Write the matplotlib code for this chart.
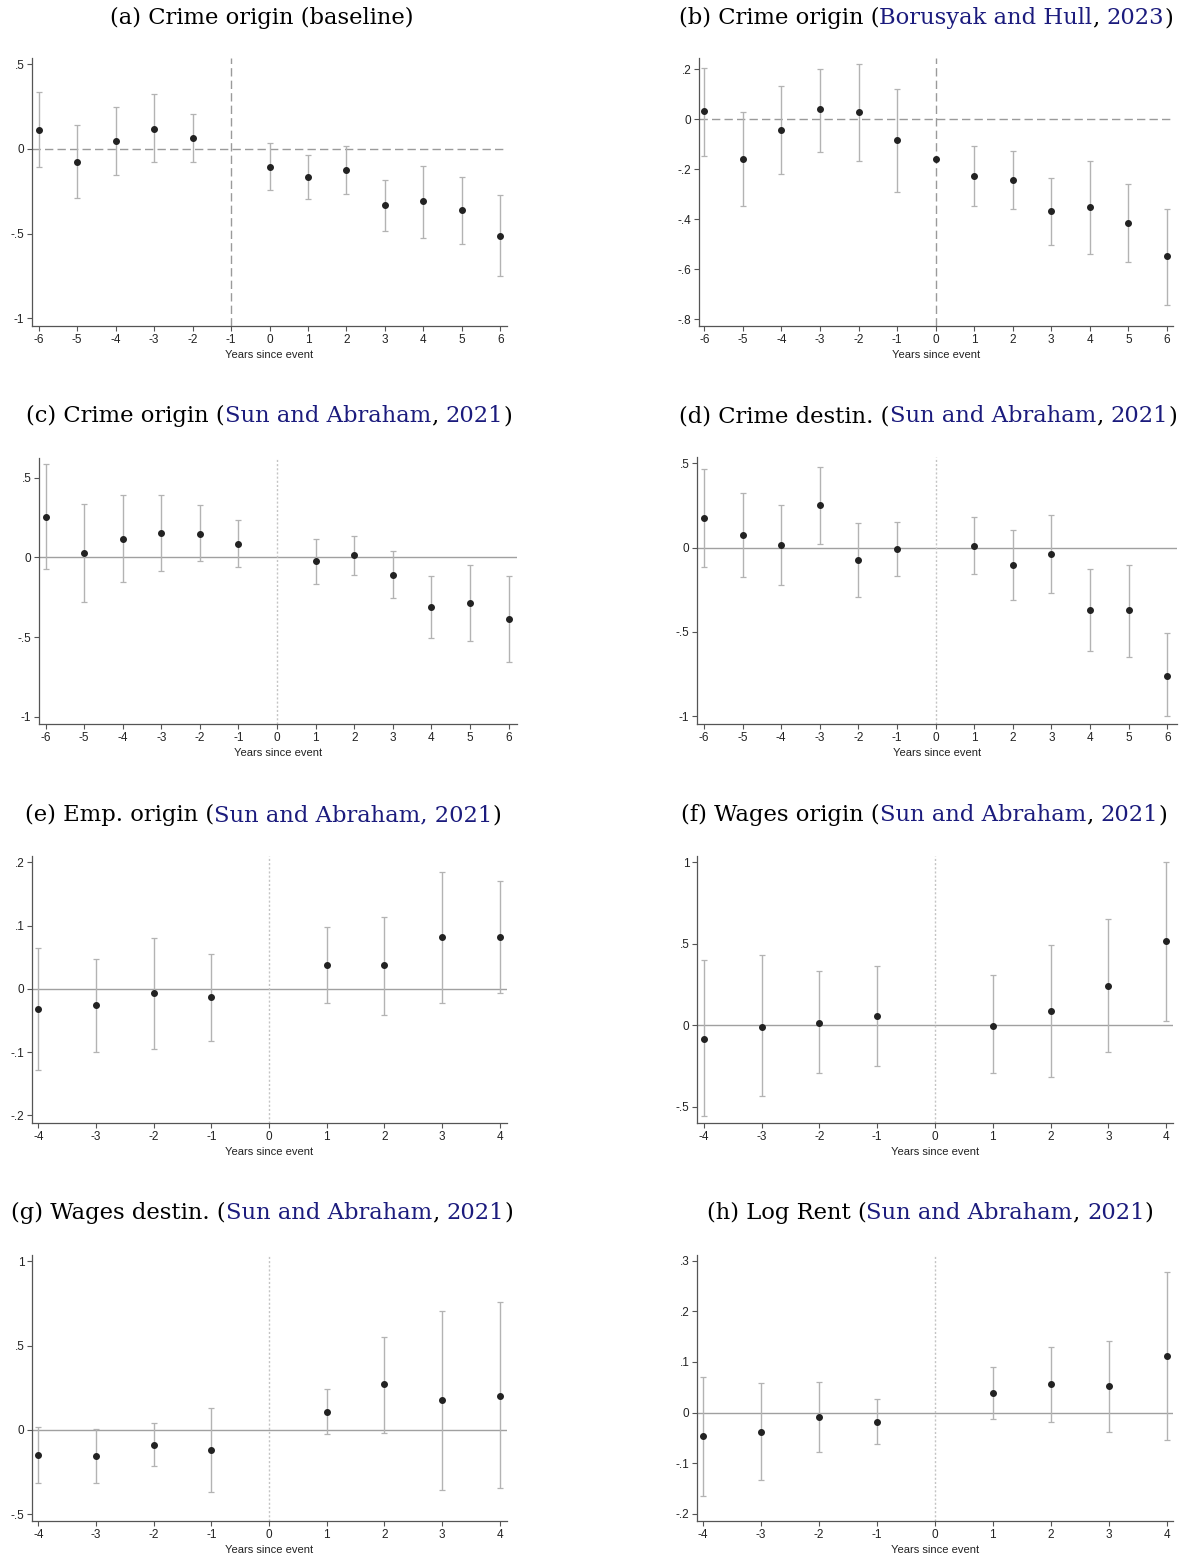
import numpy as np
import matplotlib
matplotlib.use("Agg")
import matplotlib.pyplot as plt

plt.rcParams["axes.unicode_minus"] = False
plt.rcParams["font.family"] = ["Liberation Sans", "DejaVu Sans"]

W, H = 1199, 1562

# event-study estimates, lower and upper 95% bounds
ev_a = [-6, -5, -4, -3, -2, 0, 1, 2, 3, 4, 5, 6]
est_a = [0.112, -0.075, 0.045, 0.120, 0.067, -0.105, -0.168, -0.124, -0.329, -0.306, -0.363, -0.513]
lo_a = [-0.108, -0.288, -0.152, -0.079, -0.077, -0.245, -0.296, -0.268, -0.485, -0.523, -0.564, -0.748]
hi_a = [0.335, 0.138, 0.245, 0.323, 0.207, 0.037, -0.039, 0.018, -0.183, -0.100, -0.164, -0.272]

ev_b = [-6, -5, -4, -3, -2, -1, 0, 1, 2, 3, 4, 5, 6]
est_b = [0.033, -0.158, -0.044, 0.039, 0.027, -0.084, -0.161, -0.226, -0.245, -0.368, -0.353, -0.416, -0.546]
lo_b = [-0.146, -0.346, -0.218, -0.130, -0.166, -0.292, -0.161, -0.346, -0.361, -0.503, -0.539, -0.571, -0.742]
hi_b = [0.203, 0.029, 0.131, 0.202, 0.222, 0.119, -0.161, -0.108, -0.127, -0.236, -0.169, -0.260, -0.361]

ev_cd = [-6, -5, -4, -3, -2, -1, 1, 2, 3, 4, 5, 6]
est_c = [0.256, 0.029, 0.119, 0.155, 0.149, 0.084, -0.023, 0.015, -0.109, -0.310, -0.285, -0.388]
lo_c = [-0.075, -0.281, -0.153, -0.082, -0.025, -0.061, -0.164, -0.107, -0.252, -0.504, -0.524, -0.654]
hi_c = [0.589, 0.335, 0.394, 0.394, 0.327, 0.237, 0.115, 0.136, 0.038, -0.119, -0.048, -0.119]

est_d = [0.174, 0.075, 0.012, 0.251, -0.077, -0.010, 0.010, -0.103, -0.036, -0.368, -0.372, -0.760]
lo_d = [-0.113, -0.176, -0.222, 0.020, -0.295, -0.168, -0.158, -0.313, -0.267, -0.614, -0.648, -1.000]
hi_d = [0.465, 0.323, 0.253, 0.477, 0.143, 0.154, 0.180, 0.101, 0.194, -0.125, -0.103, -0.507]

ev_4 = [-4, -3, -2, -1, 1, 2, 3, 4]
est_e = [-0.032, -0.025, -0.007, -0.013, 0.037, 0.038, 0.082, 0.082]
lo_e = [-0.129, -0.099, -0.095, -0.082, -0.022, -0.041, -0.022, -0.006]
hi_e = [0.064, 0.047, 0.080, 0.055, 0.098, 0.113, 0.185, 0.170]

est_f = [-0.082, -0.012, 0.014, 0.055, -0.002, 0.088, 0.243, 0.514]
lo_f = [-0.557, -0.435, -0.292, -0.249, -0.294, -0.316, -0.163, 0.027]
hi_f = [0.398, 0.429, 0.331, 0.365, 0.308, 0.494, 0.651, 1.000]

est_g = [-0.146, -0.152, -0.087, -0.119, 0.107, 0.271, 0.176, 0.204]
lo_g = [-0.314, -0.314, -0.215, -0.368, -0.024, -0.016, -0.356, -0.346]
hi_g = [0.016, 0.008, 0.040, 0.132, 0.241, 0.551, 0.706, 0.761]

est_h = [-0.047, -0.038, -0.009, -0.019, 0.039, 0.056, 0.053, 0.111]
lo_h = [-0.164, -0.134, -0.078, -0.062, -0.013, -0.018, -0.038, -0.055]
hi_h = [0.071, 0.059, 0.061, 0.027, 0.090, 0.129, 0.141, 0.278]

# y ticks in Stata style
yt_a = [-1, -0.5, 0, 0.5]
yl_a = ["-1", "-.5", "0", ".5"]
yt_b = [-0.8, -0.6, -0.4, -0.2, 0, 0.2]
yl_b = ["-.8", "-.6", "-.4", "-.2", "0", ".2"]
yt_e = [-0.2, -0.1, 0, 0.1, 0.2]
yl_e = ["-.2", "-.1", "0", ".1", ".2"]
yt_f = [-0.5, 0, 0.5, 1]
yl_f = ["-.5", "0", ".5", "1"]
yt_h = [-0.2, -0.1, 0, 0.1, 0.2, 0.3]
yl_h = ["-.2", "-.1", "0", ".1", ".2", ".3"]

BLUE = "#1b1b7d"
titles = {
    "a": [("(a) Crime origin (baseline)", "black")],
    "b": [("(b) Crime origin (", "black"), ("Borusyak and Hull", BLUE), (",", "black"), (" ", None), ("2023", BLUE), (")", "black")],
    "c": [("(c) Crime origin (", "black"), ("Sun and Abraham", BLUE), (",", "black"), (" ", None), ("2021", BLUE), (")", "black")],
    "d": [("(d) Crime destin. (", "black"), ("Sun and Abraham", BLUE), (",", "black"), (" ", None), ("2021", BLUE), (")", "black")],
    "e": [("(e) Emp. origin (", "black"), ("Sun and Abraham, 2021", BLUE), (")", "black")],
    "f": [("(f) Wages origin (", "black"), ("Sun and Abraham", BLUE), (",", "black"), (" ", None), ("2021", BLUE), (")", "black")],
    "g": [("(g) Wages destin. (", "black"), ("Sun and Abraham", BLUE), (",", "black"), (" ", None), ("2021", BLUE), (")", "black")],
    "h": [("(h) Log Rent (", "black"), ("Sun and Abraham", BLUE), (",", "black"), (" ", None), ("2021", BLUE), (")", "black")],
}

# panel: data, axes box in pixels (left, top, right, bottom), limits, ref line, title centre
panels = [
    ("a", ev_a, est_a, lo_a, hi_a, (32, 58, 507, 326), (-6.17, 6.17), (-1.045, 0.536), yt_a, yl_a, -1, "dashed", (262, 18)),
    ("b", ev_b, est_b, lo_b, hi_b, (699, 58, 1173, 326), (-6.14, 6.16), (-0.828, 0.245), yt_b, yl_b, 0, "dashed", (926, 18)),
    ("c", ev_cd, est_c, lo_c, hi_c, (39, 458, 517, 724), (-6.17, 6.22), (-1.046, 0.625), yt_a, yl_a, 0, "solid", (269, 416)),
    ("d", ev_cd, est_d, lo_d, hi_d, (697, 457, 1177, 724), (-6.18, 6.25), (-1.047, 0.537), yt_a, yl_a, 0, "solid", (928, 416)),
    ("e", ev_4, est_e, lo_e, hi_e, (32, 856, 507, 1123), (-4.11, 4.13), (-0.212, 0.21), yt_e, yl_e, 0, "solid", (263, 815)),
    ("f", ev_4, est_f, lo_f, hi_f, (697, 856, 1173, 1123), (-4.12, 4.12), (-0.598, 1.037), yt_f, yl_f, 0, "solid", (924, 815)),
    ("g", ev_4, est_g, lo_g, hi_g, (32, 1255, 507, 1521), (-4.11, 4.13), (-0.54, 1.037), yt_f, yl_f, 0, "solid", (262, 1213)),
    ("h", ev_4, est_h, lo_h, hi_h, (697, 1255, 1173, 1521), (-4.1, 4.11), (-0.214, 0.311), yt_h, yl_h, 0, "solid", (930, 1213)),
]

fig = plt.figure(figsize=(W / 100, H / 100), dpi=100)
fig.patch.set_facecolor("white")
renderer = fig.canvas.get_renderer()
TFONT = dict(family="DejaVu Serif", size=16.3)


def colored_title(xc, yc, parts):
    # measure each piece, then lay them out left to right around the centre
    sp = fig.text(0, 0, "x x", **TFONT)
    nsp = fig.text(0, 0, "xx", **TFONT)
    space_w = sp.get_window_extent(renderer).width - nsp.get_window_extent(renderer).width
    sp.remove()
    nsp.remove()
    widths = []
    for s, c in parts:
        if c is None:
            widths.append(space_w)
        else:
            t = fig.text(0, 0, s, **TFONT)
            widths.append(t.get_window_extent(renderer).width)
            t.remove()
    x = xc - sum(widths) / 2
    for (s, c), w in zip(parts, widths):
        if c is not None:
            fig.text(x / W, 1 - yc / H, s, color=c, ha="left", va="center", **TFONT)
        x += w


for key, ev, est, lo, hi, box, xl, yl, yt, ytl, vline, hstyle, tpos in panels:
    l, t, r, b = box
    ax = fig.add_axes([l / W, 1 - b / H, (r - l) / W, (b - t) / H])
    est = np.array(est)
    err = [est - np.array(lo), np.array(hi) - est]

    if hstyle == "dashed":
        ax.axhline(0, color="#9a9a9a", lw=1.0, ls=(0, (6, 3)), zorder=1)
        ax.axvline(vline, color="#9a9a9a", lw=1.0, ls=(0, (6, 3)), zorder=1)
    else:
        ax.axhline(0, color="#a0a0a0", lw=1.0, zorder=1)
        ax.axvline(vline, color="#c4c4c4", lw=1.0, ls=(0, (1.5, 1.5)), zorder=1)

    ax.errorbar(ev, est, yerr=err, fmt="none", ecolor="#b3b3b3", elinewidth=1.0,
                capsize=2.2, capthick=0.9, zorder=2)
    ax.plot(ev, est, "o", color="#222222", ms=4.0, zorder=3)

    ax.set_xlim(*xl)
    ax.set_ylim(*yl)
    ax.set_xticks(range(int(round(xl[0])), int(round(xl[1])) + 1))
    ax.set_yticks(yt)
    ax.set_yticklabels(ytl)
    ax.set_xlabel("Years since event", fontsize=8, color="#222222", labelpad=3)
    for sname in ["top", "right"]:
        ax.spines[sname].set_visible(False)
    for sname in ["left", "bottom"]:
        ax.spines[sname].set_color("#555555")
        ax.spines[sname].set_linewidth(0.9)
    ax.tick_params(axis="both", length=3.5, width=0.8, color="#555555",
                   labelsize=8.5, labelcolor="#222222", pad=2)
    ax.set_facecolor("white")

    colored_title(tpos[0], tpos[1], titles[key])

fig.savefig("out.png", dpi=100, facecolor="white")
